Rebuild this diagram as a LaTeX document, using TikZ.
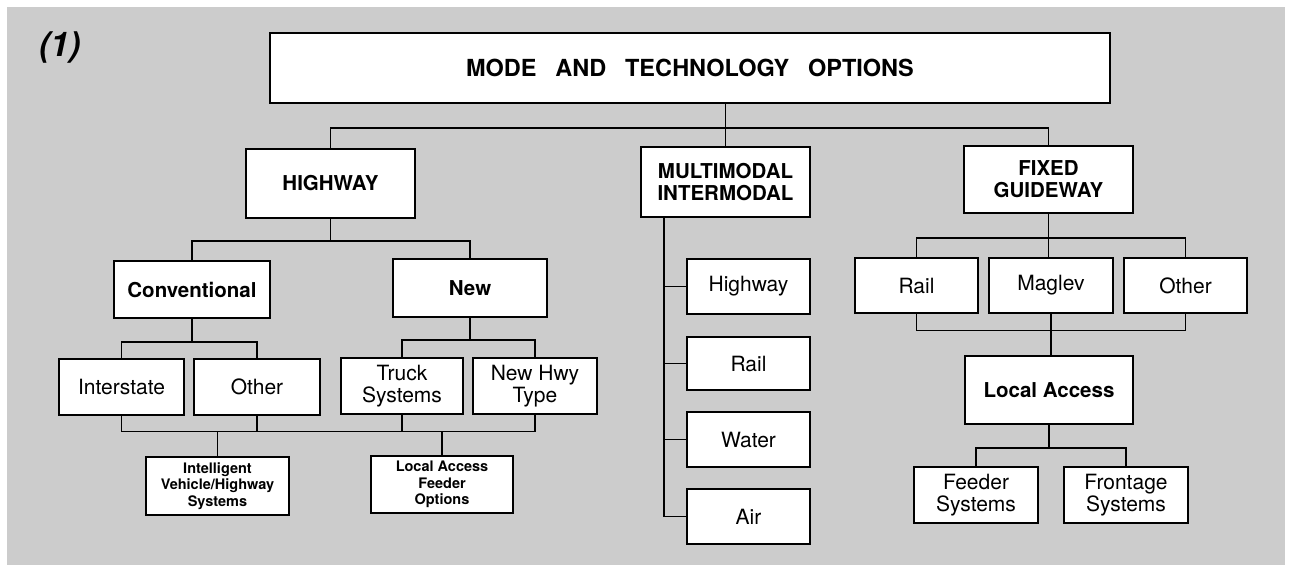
\documentclass[tikz,border=0pt]{standalone}
\usepackage{fontspec}
\setmainfont{TeX Gyre Heros}

\begin{document}
\begin{tikzpicture}[
  x=1pt,y=-1pt,
  box/.style={draw,line width=2.6pt,fill=white,inner sep=0pt,align=center,
    font=\fontsize{21}{22}\selectfont},
  hbox/.style={box,font=\fontsize{20.5}{22}\selectfont\bfseries},
  sbox/.style={box,font=\fontsize{14.5}{16.5}\selectfont\bfseries},
  wire/.style={line width=1.6pt}
]
  \useasboundingbox (0,0) rectangle (1290,571);
  \fill[black!20] (7,7) rectangle (1285,565);

  \node[font=\fontsize{34}{34}\selectfont\bfseries\itshape] (num) at (60,48) {(1)};
  \node[hbox,minimum width=840,minimum height=70,font=\fontsize{23.5}{24}\selectfont\bfseries]
    (top) at (690,68) {\raisebox{-3pt}{MODE\hspace{0.8em}AND\hspace{0.8em}TECHNOLOGY\hspace{0.8em}OPTIONS}};

  % highway branch
  \node[hbox,minimum width=169,minimum height=69] (hwy) at (330.5,183.5) {HIGHWAY};
  \node[hbox,minimum width=156,minimum height=57] (conv) at (192,289.5) {Conventional};
  \node[hbox,minimum width=154,minimum height=58] (new) at (470,288) {New};
  \node[box,minimum width=125,minimum height=56] (inter) at (121.5,387) {Interstate};
  \node[box,minimum width=126,minimum height=56] (other) at (257,387) {Other};
  \node[box,minimum width=122,minimum height=56] (truck) at (402,386) {Truck\\Systems};
  \node[box,minimum width=124,minimum height=56] (newhwy) at (535,386) {New Hwy\\Type};
  \node[sbox,minimum width=143,minimum height=58] (ivhs) at (217.5,486) {Intelligent\\Vehicle/Highway\\Systems};
  \node[sbox,minimum width=142,minimum height=57] (lafo) at (442,484.5) {Local Access\\Feeder\\Options};

  % multimodal branch
  \node[hbox,minimum width=169,minimum height=70] (multi) at (725.5,182) {MULTIMODAL\\INTERMODAL};
  \node[box,minimum width=123,minimum height=55] (mhwy) at (748.5,286.5) {Highway};
  \node[box,minimum width=123,minimum height=53] (mrail) at (748.5,363.5) {Rail};
  \node[box,minimum width=123,minimum height=55] (mwater) at (748.5,439.5) {Water};
  \node[box,minimum width=123,minimum height=55] (mair) at (748.5,516.5) {Air};

  % fixed guideway branch
  \node[hbox,minimum width=169,minimum height=67] (fixed) at (1048.5,179.5) {FIXED\\GUIDEWAY};
  \node[box,minimum width=123,minimum height=55] (frail) at (916.5,285.5) {Rail};
  \node[box,minimum width=124,minimum height=55] (fmag) at (1051,285.5) {Maglev};
  \node[box,minimum width=123,minimum height=55] (fother) at (1185.5,285.5) {Other};
  \node[hbox,minimum width=168,minimum height=68] (local) at (1049,390) {Local Access};
  \node[box,minimum width=124,minimum height=56] (feeder) at (976,495) {Feeder\\Systems};
  \node[box,minimum width=124,minimum height=56] (front) at (1126,495) {Frontage\\Systems};

  % connectors
  \draw[wire] (top.south -| multi.north) -- (multi.north);
  \draw[wire] (hwy.north) -- ++(0,-20) -| (fixed.north);

  \draw[wire] (conv.north) -- ++(0,-19) coordinate (cbus) -| (new.north);
  \draw[wire] (hwy.south) -- (hwy.south |- cbus);
  \draw[wire] (inter.north) -- ++(0,-16) coordinate (ibus) -| (other.north);
  \draw[wire] (conv.south) -- (conv.south |- ibus);
  \draw[wire] (truck.north) -- ++(0,-17) coordinate (tbus) -| (newhwy.north);
  \draw[wire] (new.south) -- (new.south |- tbus);
  \draw[wire] (inter.south) -- ++(0,15) coordinate (lbus) -| (newhwy.south);
  \draw[wire] (other.south) -- (other.south |- lbus);
  \draw[wire] (truck.south) -- (truck.south |- lbus);
  \draw[wire] (ivhs.north) -- (ivhs.north |- lbus);
  \draw[wire] (lafo.north) -- (lafo.north |- lbus);

  \coordinate (spine) at ([xshift=24pt]multi.south west);
  \draw[wire] (spine) |- (mair.west);
  \foreach \n in {mhwy,mrail,mwater}
    \draw[wire] (\n.west) -- (\n.west -| spine);

  \draw[wire] (frail.north) -- ++(0,-19) coordinate (gbus) -| (fother.north);
  \draw[wire] (fixed.south) -- (fixed.south |- fmag.north);
  \draw[wire] (frail.south) -- ++(0,16) coordinate (gbus2) -| (fother.south);
  \draw[wire] (fmag.south) -- (fmag.south |- local.north);
  \draw[wire] (feeder.north) -- ++(0,-18) coordinate (fbus) -| (front.north);
  \draw[wire] (local.south) -- (local.south |- fbus);
\end{tikzpicture}
\end{document}
